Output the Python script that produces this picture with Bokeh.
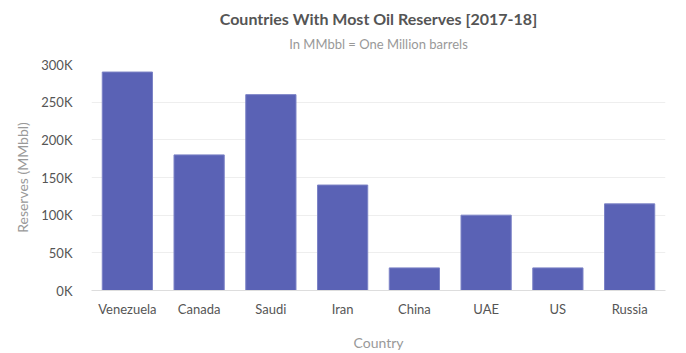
from bokeh.plotting import figure
from bokeh.models import Range1d, FixedTicker, CustomJSTickFormatter, Title, ColumnDataSource
from bokeh.embed import file_html
from bokeh.resources import INLINE

countries = ["Venezuela", "Canada", "Saudi", "Iran", "China", "UAE", "US", "Russia"]
reserves = [290000, 180000, 260000, 140000, 30000, 100000, 30000, 115000]
y_ticks = [0, 50000, 100000, 150000, 200000, 250000, 300000]

FONT = "Lato"
src = ColumnDataSource(dict(country=countries, reserves=reserves))

p = figure(x_range=countries, y_range=Range1d(0, 300000), width=686, height=353,
           output_backend="svg", toolbar_location=None, title=None,
           min_border_left=91, min_border_right=21, min_border_top=10, min_border_bottom=10)
p.vbar(x="country", top="reserves", width=0.70, source=src,
       fill_color="#5A62B5", line_color="#7C83C6", line_width=1)

sub = Title(text="In MMbbl = One Million barrels", align="center", text_font=FONT,
            text_font_size="13px", text_color="#999999", text_font_style="normal",
            standoff=25)
p.add_layout(sub, "above")
main = Title(text="Countries With Most Oil Reserves [2017-18]", align="center", text_font=FONT,
             text_font_size="16px", text_color="#555555", text_font_style="bold",
             standoff=-13)
p.add_layout(main, "above")
spacer = Title(text="\u00a0", text_font_size="10px", standoff=0)
p.add_layout(spacer, "above")

p.yaxis.ticker = FixedTicker(ticks=y_ticks)
p.yaxis.formatter = CustomJSTickFormatter(code="return (tick/1000) + 'K';")
p.yaxis.axis_line_color = None
p.yaxis.major_tick_line_color = None
p.yaxis.minor_tick_line_color = None
p.yaxis.major_label_text_font = FONT
p.yaxis.major_label_text_font_size = "13px"
p.yaxis.major_label_text_color = "#555555"
p.yaxis.major_label_standoff = 13
p.yaxis.axis_label = "Reserves (MMbbl)"
p.yaxis.axis_label_text_font = FONT
p.yaxis.axis_label_text_font_size = "14px"
p.yaxis.axis_label_text_font_style = "normal"
p.yaxis.axis_label_text_color = "#999999"
p.yaxis.axis_label_standoff = 7

p.xaxis.axis_line_color = "#dddddd"
p.xaxis.major_tick_line_color = None
p.xaxis.minor_tick_line_color = None
p.xaxis.major_label_text_font = FONT
p.xaxis.major_label_text_font_size = "13px"
p.xaxis.major_label_text_color = "#555555"
p.xaxis.major_label_standoff = 4
p.xaxis.axis_label = "Country"
p.xaxis.axis_label_text_font = FONT
p.xaxis.axis_label_text_font_size = "14px"
p.xaxis.axis_label_text_font_style = "normal"
p.xaxis.axis_label_text_color = "#999999"
p.xaxis.axis_label_standoff = 14

p.xgrid.grid_line_color = None
p.ygrid.grid_line_color = "#eeeeee"
p.outline_line_color = None
p.x_range.range_padding = 0.0

open("out.html", "w").write(file_html(p, INLINE))
